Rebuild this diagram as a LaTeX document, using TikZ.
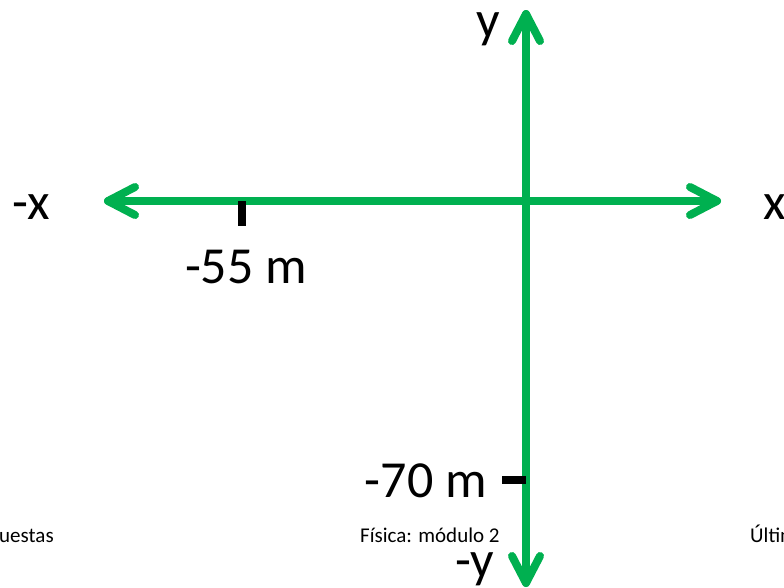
\documentclass[tikz,border=0pt]{standalone}
\usepackage{fontspec}
\setmainfont{Carlito}
\definecolor{axgreen}{RGB}{0,176,80}
\begin{document}
\begin{tikzpicture}[x=1pt,y=-1pt,
  axis/.style={draw=axgreen,line width=8pt,line cap=round,line join=round},
  tickmark/.style={draw=black,line width=7.5pt,line cap=butt},
  big/.style={inner sep=0pt,font=\fontsize{52}{60}\selectfont},
  small/.style={inner sep=0pt,font=\fontsize{21}{25}\selectfont}]
\useasboundingbox (0,0) rectangle (784,587);
\clip (0,0) rectangle (784,587);
% axis ends
\coordinate (L) at (108,201);
\coordinate (R) at (717,201);
\coordinate (T) at (526,14);
\coordinate (B) at (526,583);
% horizontal axis
\draw[axis] (L) -- (R);
\draw[axis] ([shift={(27,-14)}]L) -- (L) -- ([shift={(27,14)}]L);
\draw[axis] ([shift={(-27,-14)}]R) -- (R) -- ([shift={(-27,14)}]R);
% vertical axis
\draw[axis] (T) -- (B);
\draw[axis] ([shift={(-14,27)}]T) -- (T) -- ([shift={(14,27)}]T);
\draw[axis] ([shift={(-14,-27)}]B) -- (B) -- ([shift={(14,-27)}]B);
% ticks
\coordinate (t55a) at (242,201);
\coordinate (t55b) at (242,226);
\draw[tickmark] (t55a) -- (t55b);
\coordinate (t70a) at (502,480);
\coordinate (t70b) at (526,480);
\draw[tickmark,line width=8pt] (t70a) -- (t70b);
% labels
\node[big,anchor=base west] (mx) at (12,219) {-x};
\node[big,anchor=base west] (px) at (763,219) {x};
\node[big,anchor=base west] (py) at (476,37) {y};
\node[big,anchor=base west] (my) at (455,577) {-y};
\node[big,anchor=base] (l55) at (246,283) {-55 m};
\node[big,anchor=base east] (l70) at (487,497) {-70 m};
% footer
\node[small,anchor=base west] (f1) at (-1,542) {uestas};
\node[small,anchor=base west] (f2) at (360,542) {Física: módulo 2};
\node[small,anchor=base west] (f3) at (750,542) {Última};
\end{tikzpicture}
\end{document}
